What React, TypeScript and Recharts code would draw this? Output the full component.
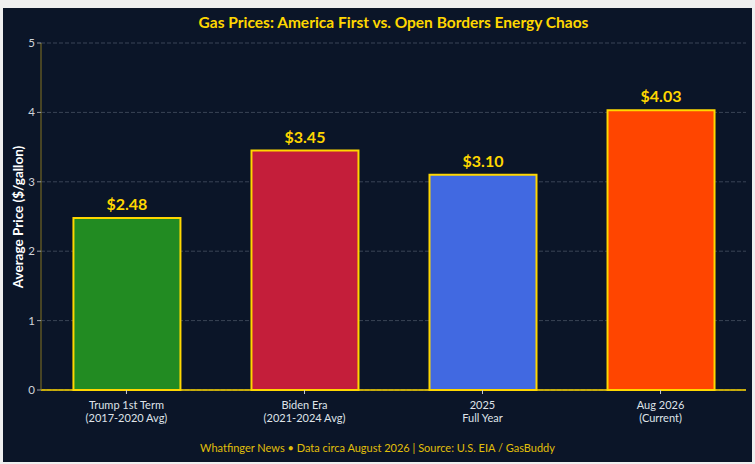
import { Bar, BarChart, CartesianGrid, LabelList, XAxis, YAxis, Cell } from 'recharts'

const categories = ['Trump 1st Term', 'Biden Era', '2025', 'Aug 2026']
const subLabels = ['(2017-2020 Avg)', '(2021-2024 Avg)', 'Full Year', '(Current)']
const prices = [2.48, 3.45, 3.1, 4.03]
const yTicks = [0, 1, 2, 3, 4, 5]

const barColors = ['#228B22', '#C41E3A', '#4169E1', '#FF4500']
const GOLD = '#FFD700'
const BG = '#0b1528'
const FONT = 'Lato, "Open Sans", sans-serif'

const data = categories.map((name, i) => ({ x: i, name, sub: subLabels[i], price: prices[i] }))

function CategoryTick(props: any) {
  const { x, y, payload } = props
  const i = payload.value
  return (
    <text x={x} y={y} textAnchor="middle" fill="#dfe3e8" fontSize={11} fontFamily={FONT}>
      <tspan x={x} dy={13}>{categories[i]}</tspan>
      <tspan x={x} dy={13}>{subLabels[i]}</tspan>
    </text>
  )
}

export default function App() {
  return (
    <div style={{ position: 'fixed', left: 0, top: 0, width: 755, height: 464, background: '#efefef' }}>
      <div style={{ position: 'absolute', left: 3, top: 8, width: 749, height: 454, background: BG, fontFamily: FONT }}>
        <div
          style={{
            position: 'absolute', left: 38, width: 705, top: 4, lineHeight: '20px',
            textAlign: 'center', color: GOLD, fontWeight: 700, fontSize: 15.5,
          }}
        >
          Gas Prices: America First vs. Open Borders Energy Chaos
        </div>
        <div
          style={{
            position: 'absolute', left: 0, width: 749, top: 432, lineHeight: '16px',
            textAlign: 'center', color: '#e0bf0a', fontSize: 11,
          }}
        >
          Whatfinger News • Data circa August 2026 | Source: U.S. EIA / GasBuddy
        </div>
        <div style={{ position: 'absolute', left: 15, top: 209, width: 0, height: 0 }}>
          <div
            style={{
              position: 'absolute', left: -100, top: -9, width: 200, lineHeight: '18px',
              textAlign: 'center', color: '#ffffff', fontWeight: 700, fontSize: 13.5,
              transform: 'rotate(-90deg)',
            }}
          >
            Average Price ($/gallon)
          </div>
        </div>
        <BarChart
          width={749}
          height={454}
          data={data}
          margin={{ top: 35, right: 6, left: 0, bottom: 0 }}
          style={{ position: 'absolute', left: 0, top: 0 }}
        >
          <CartesianGrid vertical={false} stroke="#3a4456" strokeDasharray="4 2" />
          <XAxis
            type="number"
            dataKey="x"
            domain={[-0.48, 3.48]}
            ticks={[0, 1, 2, 3]}
            allowDataOverflow
            axisLine={{ stroke: GOLD, strokeWidth: 1.5 }}
            tickLine={{ stroke: '#c8ccd2' }}
            tickSize={4}
            tick={<CategoryTick />}
            height={72}
          />
          <YAxis
            domain={[0, 5]}
            ticks={yTicks}
            width={38}
            axisLine={{ stroke: '#857420' }}
            tickLine={{ stroke: '#9aa0aa' }}
            tickSize={4}
            tick={{ fill: '#d0d4da', fontSize: 11.5, fontFamily: FONT }}
          />
          <Bar dataKey="price" barSize={107} stroke={GOLD} strokeWidth={2} isAnimationActive={false}>
            {data.map((d, i) => (
              <Cell key={d.name} fill={barColors[i]} />
            ))}
            <LabelList
              dataKey="price"
              position="top"
              offset={8}
              formatter={(v: number) => `$${v.toFixed(2)}`}
              fill={GOLD}
              fontSize={16}
              fontWeight={700}
              fontFamily={FONT}
            />
          </Bar>
        </BarChart>
      </div>
    </div>
  )
}
